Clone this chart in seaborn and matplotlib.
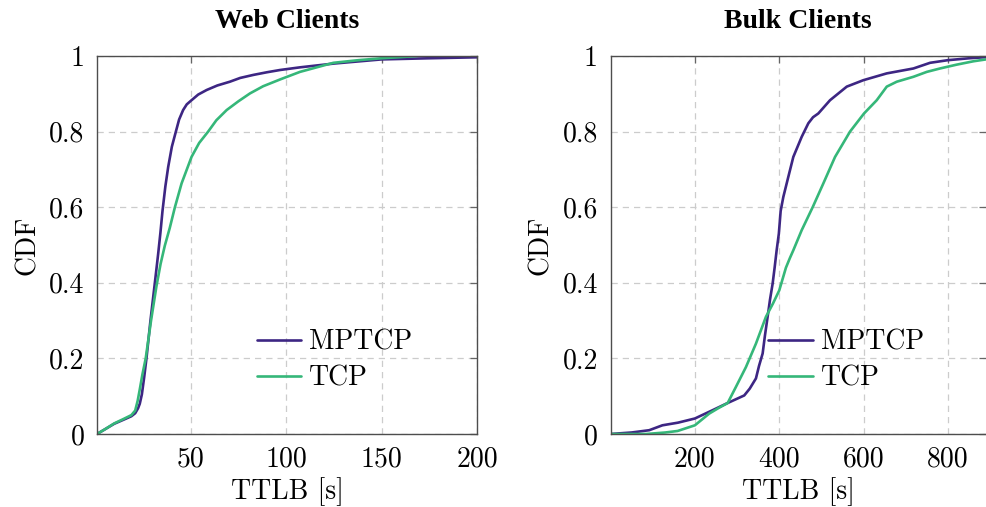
import numpy as np
import pandas as pd
import matplotlib
matplotlib.use("Agg")
import matplotlib.pyplot as plt
import seaborn as sns

# ---------------- data ----------------
web_mptcp_x = [1, 5, 10, 15, 19, 21, 22.5, 23.4, 24.5, 25.7, 26.9, 29, 31.3, 33, 34.2, 35.3, 36.8, 38.3, 40.2, 42.3, 44, 46.1, 48, 50.5, 54, 58.4, 64, 70.6, 76, 82.9, 90, 96.9, 107.3, 125, 150, 175, 200]
web_mptcp_y = [0, 0.012, 0.027, 0.038, 0.047, 0.055, 0.068, 0.08, 0.105, 0.15, 0.2, 0.3, 0.4, 0.475, 0.532, 0.59, 0.655, 0.707, 0.76, 0.8, 0.832, 0.857, 0.872, 0.883, 0.898, 0.91, 0.922, 0.932, 0.942, 0.95, 0.957, 0.963, 0.97, 0.98, 0.991, 0.994, 0.9966]

web_tcp_x = [1, 5, 10, 15, 19, 21, 22.3, 23.4, 24.8, 26.5, 29.3, 32.1, 34.3, 36.5, 39.1, 41.8, 45.3, 50.5, 54.5, 59.2, 63.5, 68.9, 75, 81.1, 88, 96.9, 107.3, 124.8, 138, 150, 160, 168.6]
web_tcp_y = [0, 0.012, 0.028, 0.04, 0.05, 0.062, 0.088, 0.118, 0.158, 0.2, 0.3, 0.39, 0.45, 0.498, 0.545, 0.6, 0.663, 0.733, 0.77, 0.8, 0.83, 0.857, 0.88, 0.901, 0.92, 0.938, 0.958, 0.982, 0.989, 0.994, 0.997, 1.0]

bulk_mptcp_x = [0, 50, 91.7, 123, 160, 200, 242, 277.7, 317, 330, 344.7, 352, 360.6, 366, 372.4, 378, 384.3, 389, 393.8, 399, 403.3, 409.6, 421.4, 433.3, 453.1, 468.9, 480, 492.6, 520.3, 560, 599.3, 654.8, 718, 757.5, 800, 850, 890]
bulk_mptcp_y = [0, 0.004, 0.01, 0.023, 0.03, 0.041, 0.063, 0.082, 0.102, 0.12, 0.147, 0.18, 0.213, 0.26, 0.31, 0.355, 0.398, 0.44, 0.486, 0.53, 0.59, 0.627, 0.68, 0.733, 0.786, 0.822, 0.838, 0.848, 0.883, 0.919, 0.936, 0.954, 0.967, 0.982, 0.989, 0.994, 0.997]

bulk_tcp_x = [0, 84.5, 130, 159, 200, 234, 255, 277.7, 297, 321, 344.7, 368.4, 385, 400, 415.8, 425, 433.3, 453.1, 479.2, 504.5, 532.2, 567.7, 600.9, 631, 654.8, 678.5, 718, 749.7, 781, 820, 860, 890]
bulk_tcp_y = [0, 0.0, 0.004, 0.008, 0.023, 0.054, 0.068, 0.082, 0.124, 0.177, 0.239, 0.31, 0.345, 0.38, 0.44, 0.465, 0.486, 0.539, 0.6, 0.663, 0.733, 0.8, 0.848, 0.883, 0.919, 0.932, 0.945, 0.958, 0.967, 0.977, 0.986, 0.991]

series_names = ["MPTCP", "TCP"]
titles = ["Web Clients", "Bulk Clients"]
x_label = "TTLB [s]"
y_label = "CDF"
y_ticks = [0, 0.2, 0.4, 0.6, 0.8, 1.0]
y_tick_labels = ["0", "0.2", "0.4", "0.6", "0.8", "1"]
web_x_ticks = [50, 100, 150, 200]
bulk_x_ticks = [200, 400, 600, 800]

# ---------------- style ----------------
sns.set_theme(style="white")
plt.rcParams["font.family"] = ["cmr10", "DejaVu Serif"]
plt.rcParams["axes.formatter.use_mathtext"] = True
plt.rcParams["mathtext.fontset"] = "cm"
plt.rcParams["text.color"] = "black"
plt.rcParams["axes.labelcolor"] = "black"

colors = {"MPTCP": "#3d2683", "TCP": "#35b779"}
FS = 20


def make_df(xm, ym, xt, yt):
    return pd.concat([
        pd.DataFrame({"x": xm, "y": ym, "proto": "MPTCP"}),
        pd.DataFrame({"x": xt, "y": yt, "proto": "TCP"}),
    ], ignore_index=True)


web_df = make_df(web_mptcp_x, web_mptcp_y, web_tcp_x, web_tcp_y)
bulk_df = make_df(bulk_mptcp_x, bulk_mptcp_y, bulk_tcp_x, bulk_tcp_y)

fig = plt.figure(figsize=(9.86, 5.07), dpi=100)
ax1 = fig.add_axes([97 / 986, (507 - 434) / 507, 380 / 986, 378 / 507])
ax2 = fig.add_axes([610.5 / 986, (507 - 434) / 507, 375.5 / 986, 378 / 507])

configs = [
    (ax1, web_df, titles[0], (1, 200), web_x_ticks),
    (ax2, bulk_df, titles[1], (0, 890), bulk_x_ticks),
]

for ax, df, title, xlim, xticks in configs:
    sns.lineplot(data=df, x="x", y="y", hue="proto", hue_order=series_names,
                 palette=colors, sort=False, estimator=None,
                 linewidth=1.9, ax=ax, legend=True)
    ax.set_xlim(*xlim)
    ax.set_ylim(0, 1)
    ax.set_xticks(xticks)
    ax.set_xticklabels([str(t) for t in xticks])
    ax.set_yticks(y_ticks)
    ax.set_yticklabels(y_tick_labels)
    ax.grid(True, which="major", color="#cccccc", linestyle=(0, (5, 4)), linewidth=0.9)
    ax.tick_params(axis="both", which="major", direction="in", length=5, width=0.9,
                   color="#666666", labelsize=FS, top=True, right=True, pad=9,
                   labelcolor="black")
    for s in ax.spines.values():
        s.set_color("#4d4d4d")
        s.set_linewidth(1.0)
        s.set_visible(True)
    ax.set_xlabel(x_label, fontsize=FS, labelpad=3, color="black")
    ax.set_ylabel(y_label, fontsize=FS, labelpad=6, color="black")
    ax.set_title(title, fontsize=20, fontweight="bold", family="Liberation Serif",
                 pad=20, color="black")
    handles, labels = ax.get_legend_handles_labels()
    ax.legend(handles, labels, loc="center left", bbox_to_anchor=(0.42, 0.195),
              frameon=False, fontsize=FS, handlelength=1.6, handletextpad=0.3,
              labelspacing=0.35, borderpad=0, borderaxespad=0)

ax2.spines["right"].set_visible(False)

fig.savefig("out.png", dpi=100)
